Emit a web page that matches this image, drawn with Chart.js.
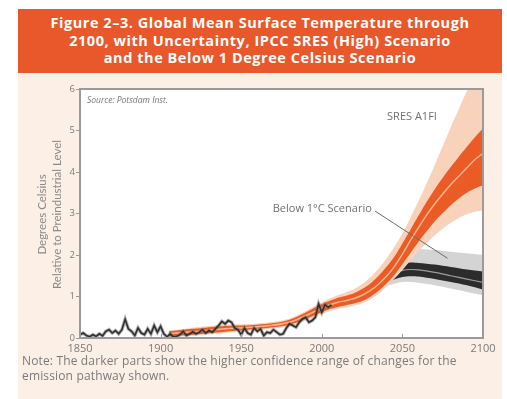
<!DOCTYPE html>
<html>
<head>
<meta charset="utf-8">
<script src="https://cdn.jsdelivr.net/npm/chart.js@4.4.1/dist/chart.umd.min.js"></script>
<style>
  html, body { margin: 0; padding: 0; background: #fff; }
  body { width: 507px; height: 399px; position: relative; overflow: hidden; font-family: "Open Sans", sans-serif; }
  #panel { position: absolute; left: 18px; top: 73px; width: 484px; height: 326px; background: #fcefe6; }
  #banner { position: absolute; left: 18px; top: 9px; width: 484px; height: 64px; background: #e8582a;
            color: #fff; font-weight: bold; font-size: 14.5px; letter-spacing: 0.55px; line-height: 17.5px;
            text-align: center; box-sizing: border-box; padding-top: 5px; }
  #note { position: absolute; left: 22px; top: 353px; width: 480px; font-size: 12px; letter-spacing: 0.15px;
          line-height: 15px; color: #7a7a7a; z-index: 2; }
  #chart { position: absolute; left: 0; top: 0; z-index: 1; }
</style>
</head>
<body>
<div id="panel"></div>
<div id="banner">Figure 2–3. Global Mean Surface Temperature through<br>2100, with Uncertainty, IPCC SRES (High) Scenario<br>and the Below 1 Degree Celsius Scenario</div>
<canvas id="chart" width="507" height="399"></canvas>
<div id="note">Note: The darker parts show the higher confidence range of changes for the<br>emission pathway shown.</div>
<script>
// observed record (deg C above preindustrial)
const obsYears = [1850,1852,1854,1856,1858,1860,1862,1864,1866,1868,1870,1872,1874,1876,1878,1880,1882,1884,1886,1888,
  1890,1892,1894,1896,1898,1900,1902,1904,1906,1908,1910,1912,1914,1916,1918,1920,1922,1924,1926,1928,
  1930,1932,1934,1936,1938,1940,1942,1944,1946,1948,1950,1952,1954,1956,1958,1960,1962,1964,1966,1968,
  1970,1972,1974,1976,1978,1980,1982,1984,1986,1988,1990,1992,1994,1996,1998,2000,2002,2004,2006];
const obsValues = [0.08,0.12,0.06,0.03,0.08,0.04,0.10,0.05,0.16,0.20,0.12,0.18,0.10,0.20,0.45,0.22,0.16,0.06,0.24,0.12,
  0.08,0.22,0.10,0.30,0.14,0.28,0.10,0.03,0.10,0.02,0.04,0.08,0.16,0.06,0.10,0.15,0.10,0.14,0.20,0.12,
  0.18,0.14,0.22,0.30,0.40,0.34,0.42,0.38,0.24,0.20,0.08,0.24,0.12,0.08,0.24,0.16,0.22,0.06,0.14,0.12,
  0.20,0.14,0.08,0.10,0.24,0.34,0.30,0.26,0.38,0.46,0.50,0.38,0.42,0.50,0.82,0.62,0.80,0.74,0.80];

// SRES A1FI (model run + projection)
const a1Years  = [1905,1920,1940,1960,1980,2000,2005,2010,2015,2020,2025,2030,2035,2040,2045,2050,2055,2060,2065,2070,2075,2080,2085,2090,2095,2100];
const a1Center = [0.10,0.15,0.22,0.27,0.38,0.72,0.80,0.86,0.90,0.95,1.03,1.14,1.29,1.48,1.72,2.02,2.35,2.66,2.96,3.23,3.47,3.70,3.90,4.10,4.30,4.45];
const a1DarkHi = [0.16,0.22,0.29,0.32,0.44,0.82,0.90,0.97,1.02,1.08,1.18,1.31,1.49,1.71,1.96,2.28,2.61,2.95,3.28,3.58,3.86,4.12,4.37,4.61,4.84,5.05];
const a1DarkLo = [0.04,0.08,0.15,0.22,0.32,0.62,0.70,0.75,0.79,0.83,0.89,0.99,1.13,1.31,1.52,1.78,2.05,2.32,2.57,2.81,3.01,3.20,3.36,3.50,3.60,3.68];
const a1LightHi = [0.18,0.25,0.32,0.35,0.47,0.86,0.95,1.03,1.10,1.18,1.30,1.46,1.66,1.91,2.20,2.52,2.90,3.30,3.72,4.16,4.62,5.08,5.52,5.95,6.35,6.75];
const a1LightLo = [0.02,0.05,0.12,0.19,0.29,0.58,0.65,0.70,0.74,0.78,0.84,0.93,1.06,1.23,1.43,1.64,1.87,2.09,2.29,2.47,2.63,2.77,2.89,2.98,3.04,3.08];

// Below 1 deg C scenario
const lowYears   = [2030,2035,2040,2045,2050,2055,2060,2070,2080,2090,2100];
const lowCenter  = [1.13,1.28,1.42,1.55,1.63,1.65,1.64,1.58,1.50,1.42,1.34];
const lowDarkHi  = [1.15,1.34,1.52,1.67,1.78,1.82,1.81,1.77,1.71,1.65,1.60];
const lowDarkLo  = [1.10,1.22,1.32,1.41,1.47,1.49,1.48,1.42,1.35,1.27,1.17];
const lowLightHi = [1.18,1.38,1.60,1.84,2.02,2.11,2.14,2.12,2.08,2.04,2.00];
const lowLightLo = [1.06,1.16,1.25,1.31,1.35,1.35,1.33,1.27,1.19,1.11,1.03];

// leader line for the "Below 1°C" label
const leaderYears  = [2033, 2078];
const leaderValues = [3.06, 1.92];

const xTicks = [1850, 1900, 1950, 2000, 2050, 2100];
const yTicks = [0, 1, 2, 3, 4, 5, 6];

function pts(xs, ys) {
    return xs.map((x, i) => ({ x: x, y: ys[i] }));
}

function band(xs, ys, color, fillTo, order) {
    return { data: pts(xs, ys), borderWidth: 0, pointRadius: 0, backgroundColor: color,
             fill: fillTo, order: order, tension: 0.3 };
}

function line(xs, ys, color, width, order, tension) {
    return { data: pts(xs, ys), borderColor: color, borderWidth: width, pointRadius: 0,
             fill: false, order: order, tension: tension };
}

const chartDecor = {
    id: 'chartDecor',
    beforeDraw(chart) {
        const a = chart.chartArea, ctx = chart.ctx;
        ctx.save();
        ctx.fillStyle = '#ffffff';
        ctx.fillRect(a.left, a.top, a.right - a.left, a.bottom - a.top);
        ctx.restore();
    },
    afterDatasetsDraw(chart) {
        const a = chart.chartArea, ctx = chart.ctx;
        const xs = chart.scales.x, ys = chart.scales.y;
        ctx.save();
        ctx.strokeStyle = '#9a9a9a';
        ctx.lineWidth = 2;
        ctx.strokeRect(a.left, a.top, a.right - a.left, a.bottom - a.top);

        // small inner tick marks on the x axis
        ctx.lineWidth = 1;
        xTicks.slice(1, -1).forEach(v => {
            const px = Math.round(xs.getPixelForValue(v)) + 0.5;
            ctx.beginPath();
            ctx.moveTo(px, a.bottom);
            ctx.lineTo(px, a.bottom - 4);
            ctx.stroke();
        });

        ctx.fillStyle = '#777';
        ctx.font = 'italic 8.5px "Open Sans"';
        ctx.textBaseline = 'middle';
        ctx.fillText('Source: Potsdam Inst.', a.left + 7, a.top + 12);

        ctx.font = '11px "Open Sans"';
        ctx.fillStyle = '#707070';
        ctx.textAlign = 'left';
        ctx.fillText('SRES A1FI', xs.getPixelForValue(2040.5), ys.getPixelForValue(5.33));
        ctx.textAlign = 'right';
        ctx.fillText('Below 1°C Scenario', xs.getPixelForValue(2031), ys.getPixelForValue(3.12));

        // y axis title, two lines
        ctx.fillStyle = '#8a8a8a';
        ctx.font = '11.5px Lato';
        ctx.textAlign = 'center';
        const cy = (a.top + a.bottom) / 2 + 1;
        ctx.translate(42, cy);
        ctx.rotate(-Math.PI / 2);
        ctx.fillText('Degrees Celsius', 0, 0);
        ctx.fillText('Relative to Preindustrial Level', 0, 15);
        ctx.restore();
    }
};

Chart.defaults.font.family = '"Open Sans"';

new Chart(document.getElementById('chart').getContext('2d'), {
    type: 'line',
    data: {
        datasets: [
            band(lowYears, lowLightHi, '#d4d4d4', 1, 10),
            band(lowYears, lowLightLo, 'transparent', false, 10),
            band(lowYears, lowDarkHi, '#2c2c2c', 3, 9),
            band(lowYears, lowDarkLo, 'transparent', false, 9),
            line(lowYears, lowCenter, '#9c9c9c', 1.2, 8, 0.3),
            band(a1Years, a1LightHi, '#f8d2bb', 6, 7),
            band(a1Years, a1LightLo, 'transparent', false, 7),
            band(a1Years, a1DarkHi, '#ea5b26', 8, 6),
            band(a1Years, a1DarkLo, 'transparent', false, 6),
            line(a1Years, a1Center, '#f9b58e', 1.5, 5, 0.3),
            line(obsYears, obsValues, 'rgba(110,110,110,0.55)', 3.5, 4, 0),
            line(obsYears, obsValues, '#2e2e2e', 1.6, 3, 0),
            line(leaderYears, leaderValues, '#6a6a6a', 1, 2, 0)
        ]
    },
    options: {
        responsive: false,
        animation: false,
        layout: { padding: { left: 0, right: 24, top: 89, bottom: 41 } },
        plugins: { legend: { display: false }, tooltip: { enabled: false } },
        scales: {
            x: {
                type: 'linear', min: 1850, max: 2100,
                afterFit(scale) { scale.height = 20; },
                afterBuildTicks(scale) { scale.ticks = xTicks.map(v => ({ value: v })); },
                grid: { display: false, drawTicks: false },
                border: { display: false },
                ticks: { color: '#7a7a7a', font: { size: 11 }, padding: 4, maxRotation: 0,
                         callback: v => String(v) }
            },
            y: {
                min: 0, max: 6,
                afterFit(scale) { scale.width = 80; },
                afterBuildTicks(scale) { scale.ticks = yTicks.map(v => ({ value: v })); },
                grid: { drawOnChartArea: false, tickLength: 4, color: '#9a9a9a' },
                border: { display: false },
                ticks: { color: '#7a7a7a', font: { size: 9.5 }, padding: 1 }
            }
        }
    },
    plugins: [chartDecor]
});
</script>
</body>
</html>
